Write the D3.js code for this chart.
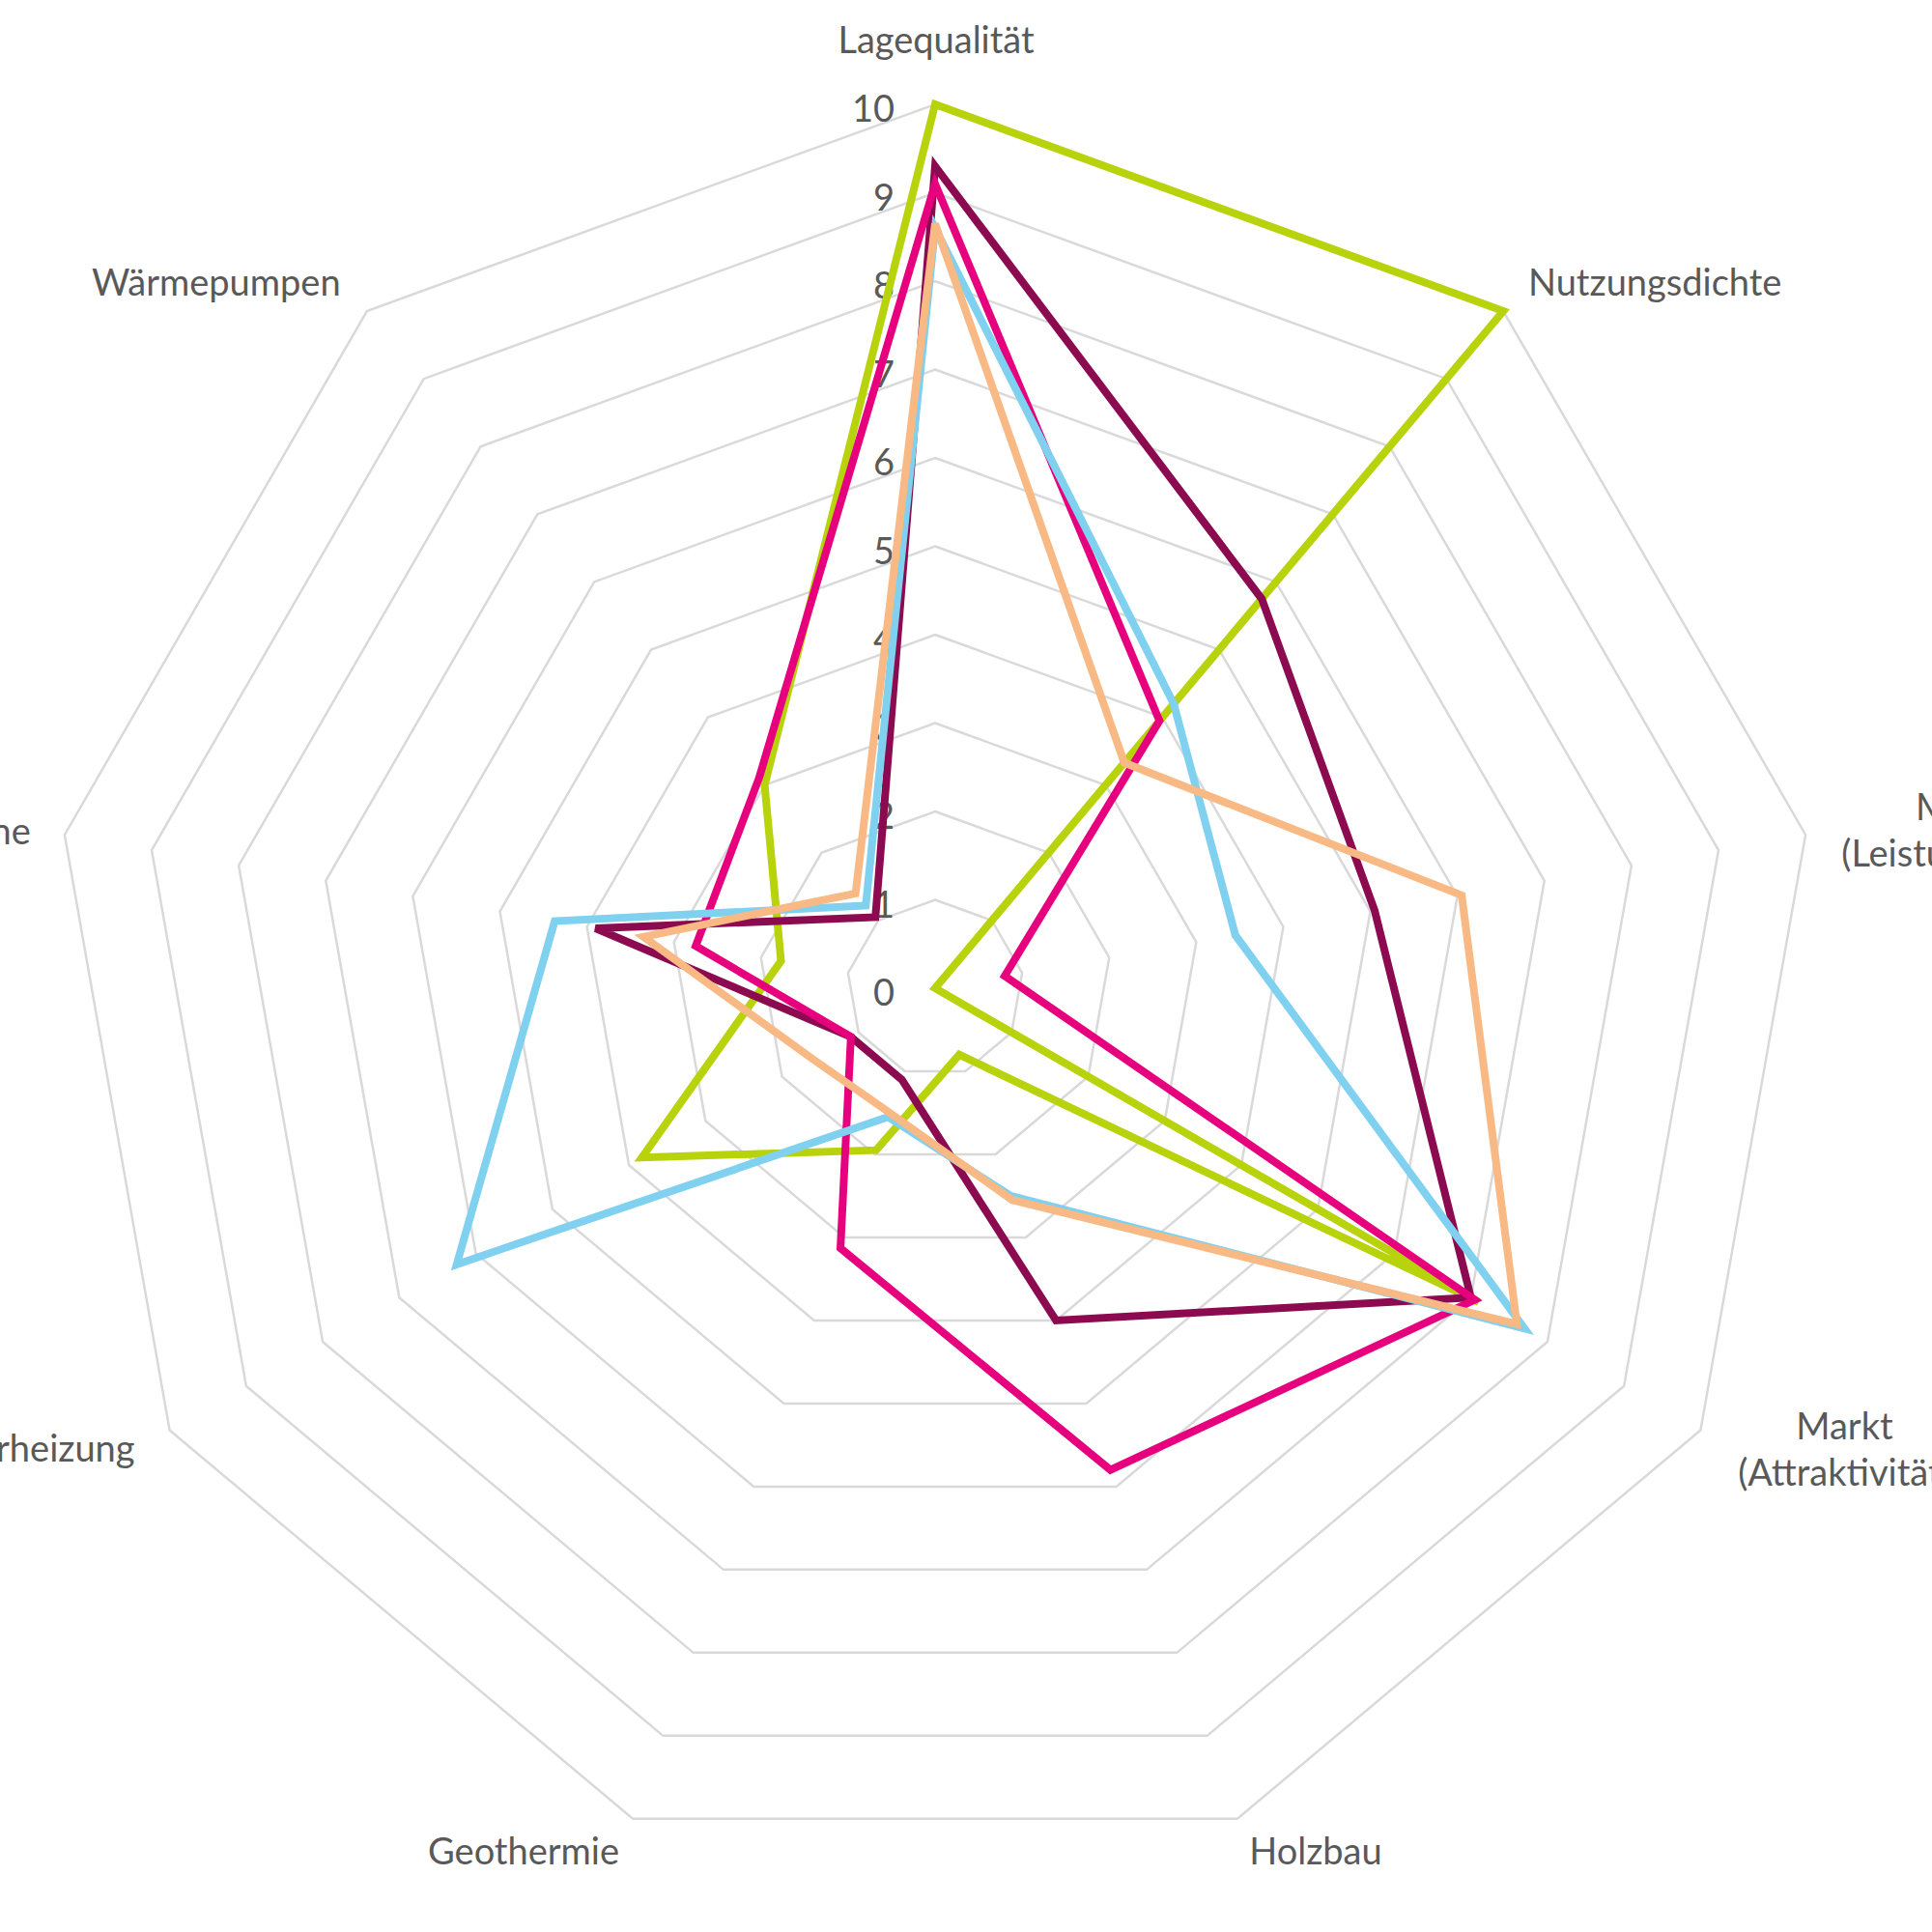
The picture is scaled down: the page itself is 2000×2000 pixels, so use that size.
<!DOCTYPE html>
<html>
<head>
<meta charset="utf-8">
<script src="https://cdn.jsdelivr.net/npm/d3@7"></script>
<style>
  body { margin: 0; background: #fff; }
  text { font-family: Lato, "Open Sans", sans-serif; fill: #595959; }
</style>
</head>
<body>
<svg id="radar_svg" width="2000" height="2000"></svg>
<script>

// axis names, clockwise from the top
var axes = ["Lagequalität", "Nutzungsdichte", "Markt\n(Leistungskraft)", "Markt\n(Attraktivität)",
	"Holzbau", "Geothermie", "Solarheizung", "Windturbine", "Wärmepumpen"];

var ticks = [0, 1, 2, 3, 4, 5, 6, 7, 8, 9, 10];

// one array per series, same order as axes
var greenVals   = [10, 10, 0, 7.1, 0.8, 1.95, 3.83, 1.77, 3.0];
var purpleVals  = [9.3, 5.75, 5.05, 7.0, 4.0, 1.1, 1.1, 3.9, 1.05];
var magentaVals = [9.1, 3.95, 0.8, 7.05, 5.8, 3.13, 1.1, 2.75, 3.1];
var blueVals    = [8.6, 4.2, 3.45, 7.7, 2.5, 1.55, 6.25, 4.37, 1.22];
var peachVals   = [8.65, 3.33, 6.05, 7.6, 2.55, 1.5, 1.6, 3.35, 1.4];

function radarChart() {

	var svg = d3.select("#radar_svg"),
		cx = 968, cy = 1023,
		outer = 915;

	var r = d3.scaleLinear().domain([0, 10]).range([0, outer]);
	var angle = d3.scaleLinear().domain([0, axes.length]).range([0, 2 * Math.PI]);

	var g = svg.append("g")
		.attr("transform", "translate(" + cx + "," + cy + ")");

	// draw order, bottom to top
	var series = [
		{values: greenVals,   color: "#b8d20c"},
		{values: purpleVals,  color: "#8c0a4f"},
		{values: magentaVals, color: "#e6007e"},
		{values: blueVals,    color: "#80d0ef"},
		{values: peachVals,   color: "#f8b984"}
	];

	var radial = d3.lineRadial()
		.angle(function(d, i) { return angle(i); })
		.radius(function(d) { return r(d); })
		.curve(d3.curveLinearClosed);

	// grid rings
	g.selectAll(".ring")
		.data(ticks.slice(1))
	  .enter().append("path")
		.attr("class", "ring")
		.attr("d", function(t) { return radial(axes.map(function() { return t; })); })
		.attr("fill", "none")
		.attr("stroke", "#d9d9d9")
		.attr("stroke-width", 2.5);

	// tick numbers left of the vertical axis
	g.selectAll(".tick-label")
		.data(ticks)
	  .enter().append("text")
		.attr("class", "tick-label")
		.attr("x", -42)
		.attr("y", function(t) { return -r(t) + 5; })
		.attr("dy", "0.35em")
		.attr("text-anchor", "end")
		.attr("font-size", 38)
		.text(function(t) { return t; });

	// the series
	g.selectAll(".series")
		.data(series)
	  .enter().append("path")
		.attr("class", "series")
		.attr("d", function(s) { return radial(s.values); })
		.attr("fill", "none")
		.attr("stroke", function(s) { return s.color; })
		.attr("stroke-width", 8)
		.attr("stroke-linejoin", "miter");

	// category labels: offset from the tip of each axis
	var labelOffset = [[1, -66, "middle"], [157, -29, "middle"], [164, -4, "middle"], [149, 20, "middle"],
		[81, 34, "middle"], [-113, 34, "middle"], [-36, 19, "end"], [-35, -3, "end"], [-156, -29, "middle"]];

	var labels = g.selectAll(".axis-label")
		.data(axes)
	  .enter().append("text")
		.attr("class", "axis-label")
		.attr("font-size", 38)
		.attr("text-anchor", function(d, i) { return labelOffset[i][2]; })
		.attr("transform", function(d, i) {
			var a = angle(i), x = Math.sin(a) * outer, y = -Math.cos(a) * outer;
			return "translate(" + (x + labelOffset[i][0]) + "," + (y + labelOffset[i][1]) + ")";
		});

	labels.each(function(d) {
		var lines = d.split("\n"),
			el = d3.select(this);
		lines.forEach(function(line, k) {
			el.append("tspan")
				.attr("x", 0)
				.attr("y", (k - (lines.length - 1) / 2) * 48)
				.attr("dy", "0.35em")
				.text(line);
		});
	});
}

radarChart();

</script>
</body>
</html>
